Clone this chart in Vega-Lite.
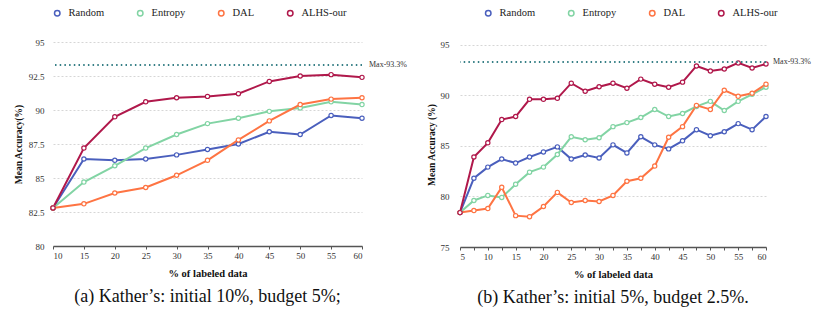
{
  "$schema": "https://vega.github.io/schema/vega-lite/v6.json",
  "padding": {"top": 8, "left": 13, "right": 4, "bottom": 4},
  "spacing": 19,
  "resolve": {"scale": {"x": "independent", "y": "independent", "color": "independent"}, "legend": {"color": "independent"}},
  "config": {
    "font": "Liberation Serif",
    "view": {"stroke": null},
    "axis": {"labelFont": "Liberation Serif", "titleFont": "Liberation Serif", "labelFontSize": 9, "titleFontSize": 10.5, "titleFontWeight": "bold", "labelColor": "#333333", "titleColor": "#111111", "labelOverlap": false},
    "axisY": {"domain": false, "ticks": false, "grid": true, "gridDash": [2, 2], "gridColor": "#cccccc", "gridWidth": 0.8, "titleFontSize": 9.5},
    "axisX": {"grid": false, "domainColor": "#555555", "domainWidth": 1.5, "tickColor": "#555555", "tickSize": 3, "tickWidth": 1, "labelPadding": 2, "titlePadding": 8, "labelAngle": 0},
    "legend": {"labelFont": "Liberation Serif", "labelFontSize": 10.5, "labelColor": "#222222", "symbolType": "circle", "symbolSize": 30, "symbolStrokeWidth": 1.5, "symbolFillColor": "white", "columnPadding": 29, "labelOffset": 6, "direction": "horizontal"},
    "title": {"font": "Liberation Serif", "fontSize": 18, "fontWeight": "normal", "color": "#111111"}
  },
  "datasets": {
    "a": [
      {"p": 10, "method": "Random", "acc": 82.8}, {"p": 15, "method": "Random", "acc": 86.4}, {"p": 20, "method": "Random", "acc": 86.3}, {"p": 25, "method": "Random", "acc": 86.4}, {"p": 30, "method": "Random", "acc": 86.7}, {"p": 35, "method": "Random", "acc": 87.1}, {"p": 40, "method": "Random", "acc": 87.5}, {"p": 45, "method": "Random", "acc": 88.4}, {"p": 50, "method": "Random", "acc": 88.2}, {"p": 55, "method": "Random", "acc": 89.6}, {"p": 60, "method": "Random", "acc": 89.4},
      {"p": 10, "method": "Entropy", "acc": 82.8}, {"p": 15, "method": "Entropy", "acc": 84.7}, {"p": 20, "method": "Entropy", "acc": 85.9}, {"p": 25, "method": "Entropy", "acc": 87.2}, {"p": 30, "method": "Entropy", "acc": 88.2}, {"p": 35, "method": "Entropy", "acc": 89.0}, {"p": 40, "method": "Entropy", "acc": 89.4}, {"p": 45, "method": "Entropy", "acc": 89.9}, {"p": 50, "method": "Entropy", "acc": 90.15}, {"p": 55, "method": "Entropy", "acc": 90.6}, {"p": 60, "method": "Entropy", "acc": 90.4},
      {"p": 10, "method": "DAL", "acc": 82.8}, {"p": 15, "method": "DAL", "acc": 83.1}, {"p": 20, "method": "DAL", "acc": 83.9}, {"p": 25, "method": "DAL", "acc": 84.3}, {"p": 30, "method": "DAL", "acc": 85.2}, {"p": 35, "method": "DAL", "acc": 86.3}, {"p": 40, "method": "DAL", "acc": 87.8}, {"p": 45, "method": "DAL", "acc": 89.2}, {"p": 50, "method": "DAL", "acc": 90.4}, {"p": 55, "method": "DAL", "acc": 90.8}, {"p": 60, "method": "DAL", "acc": 90.9},
      {"p": 10, "method": "ALHS-our", "acc": 82.8}, {"p": 15, "method": "ALHS-our", "acc": 87.2}, {"p": 20, "method": "ALHS-our", "acc": 89.5}, {"p": 25, "method": "ALHS-our", "acc": 90.6}, {"p": 30, "method": "ALHS-our", "acc": 90.9}, {"p": 35, "method": "ALHS-our", "acc": 91.0}, {"p": 40, "method": "ALHS-our", "acc": 91.2}, {"p": 45, "method": "ALHS-our", "acc": 92.1}, {"p": 50, "method": "ALHS-our", "acc": 92.5}, {"p": 55, "method": "ALHS-our", "acc": 92.6}, {"p": 60, "method": "ALHS-our", "acc": 92.4}
    ],
    "b": [
      {"p": 5, "method": "Random", "acc": 78.4}, {"p": 7.5, "method": "Random", "acc": 81.8}, {"p": 10, "method": "Random", "acc": 82.9}, {"p": 12.5, "method": "Random", "acc": 83.7}, {"p": 15, "method": "Random", "acc": 83.3}, {"p": 17.5, "method": "Random", "acc": 83.9}, {"p": 20, "method": "Random", "acc": 84.4}, {"p": 22.5, "method": "Random", "acc": 84.9}, {"p": 25, "method": "Random", "acc": 83.7}, {"p": 27.5, "method": "Random", "acc": 84.1}, {"p": 30, "method": "Random", "acc": 83.8}, {"p": 32.5, "method": "Random", "acc": 85.1}, {"p": 35, "method": "Random", "acc": 84.3}, {"p": 37.5, "method": "Random", "acc": 85.9}, {"p": 40, "method": "Random", "acc": 85.1}, {"p": 42.5, "method": "Random", "acc": 84.7}, {"p": 45, "method": "Random", "acc": 85.5}, {"p": 47.5, "method": "Random", "acc": 86.6}, {"p": 50, "method": "Random", "acc": 86.0}, {"p": 52.5, "method": "Random", "acc": 86.4}, {"p": 55, "method": "Random", "acc": 87.2}, {"p": 57.5, "method": "Random", "acc": 86.6}, {"p": 60, "method": "Random", "acc": 87.9},
      {"p": 5, "method": "Entropy", "acc": 78.4}, {"p": 7.5, "method": "Entropy", "acc": 79.6}, {"p": 10, "method": "Entropy", "acc": 80.1}, {"p": 12.5, "method": "Entropy", "acc": 79.9}, {"p": 15, "method": "Entropy", "acc": 81.2}, {"p": 17.5, "method": "Entropy", "acc": 82.4}, {"p": 20, "method": "Entropy", "acc": 82.9}, {"p": 22.5, "method": "Entropy", "acc": 84.15}, {"p": 25, "method": "Entropy", "acc": 85.9}, {"p": 27.5, "method": "Entropy", "acc": 85.6}, {"p": 30, "method": "Entropy", "acc": 85.8}, {"p": 32.5, "method": "Entropy", "acc": 86.9}, {"p": 35, "method": "Entropy", "acc": 87.3}, {"p": 37.5, "method": "Entropy", "acc": 87.8}, {"p": 40, "method": "Entropy", "acc": 88.6}, {"p": 42.5, "method": "Entropy", "acc": 87.9}, {"p": 45, "method": "Entropy", "acc": 88.2}, {"p": 47.5, "method": "Entropy", "acc": 88.9}, {"p": 50, "method": "Entropy", "acc": 89.4}, {"p": 52.5, "method": "Entropy", "acc": 88.5}, {"p": 55, "method": "Entropy", "acc": 89.4}, {"p": 57.5, "method": "Entropy", "acc": 90.1}, {"p": 60, "method": "Entropy", "acc": 90.8},
      {"p": 5, "method": "DAL", "acc": 78.4}, {"p": 7.5, "method": "DAL", "acc": 78.6}, {"p": 10, "method": "DAL", "acc": 78.8}, {"p": 12.5, "method": "DAL", "acc": 80.9}, {"p": 15, "method": "DAL", "acc": 78.1}, {"p": 17.5, "method": "DAL", "acc": 78.0}, {"p": 20, "method": "DAL", "acc": 79.0}, {"p": 22.5, "method": "DAL", "acc": 80.4}, {"p": 25, "method": "DAL", "acc": 79.4}, {"p": 27.5, "method": "DAL", "acc": 79.6}, {"p": 30, "method": "DAL", "acc": 79.5}, {"p": 32.5, "method": "DAL", "acc": 80.1}, {"p": 35, "method": "DAL", "acc": 81.5}, {"p": 37.5, "method": "DAL", "acc": 81.8}, {"p": 40, "method": "DAL", "acc": 83.0}, {"p": 42.5, "method": "DAL", "acc": 85.85}, {"p": 45, "method": "DAL", "acc": 86.9}, {"p": 47.5, "method": "DAL", "acc": 89.0}, {"p": 50, "method": "DAL", "acc": 88.6}, {"p": 52.5, "method": "DAL", "acc": 90.5}, {"p": 55, "method": "DAL", "acc": 89.9}, {"p": 57.5, "method": "DAL", "acc": 90.2}, {"p": 60, "method": "DAL", "acc": 91.1},
      {"p": 5, "method": "ALHS-our", "acc": 78.4}, {"p": 7.5, "method": "ALHS-our", "acc": 83.9}, {"p": 10, "method": "ALHS-our", "acc": 85.3}, {"p": 12.5, "method": "ALHS-our", "acc": 87.6}, {"p": 15, "method": "ALHS-our", "acc": 87.9}, {"p": 17.5, "method": "ALHS-our", "acc": 89.6}, {"p": 20, "method": "ALHS-our", "acc": 89.6}, {"p": 22.5, "method": "ALHS-our", "acc": 89.7}, {"p": 25, "method": "ALHS-our", "acc": 91.2}, {"p": 27.5, "method": "ALHS-our", "acc": 90.4}, {"p": 30, "method": "ALHS-our", "acc": 90.85}, {"p": 32.5, "method": "ALHS-our", "acc": 91.2}, {"p": 35, "method": "ALHS-our", "acc": 90.7}, {"p": 37.5, "method": "ALHS-our", "acc": 91.6}, {"p": 40, "method": "ALHS-our", "acc": 91.1}, {"p": 42.5, "method": "ALHS-our", "acc": 90.8}, {"p": 45, "method": "ALHS-our", "acc": 91.3}, {"p": 47.5, "method": "ALHS-our", "acc": 92.9}, {"p": 50, "method": "ALHS-our", "acc": 92.4}, {"p": 52.5, "method": "ALHS-our", "acc": 92.6}, {"p": 55, "method": "ALHS-our", "acc": 93.2}, {"p": 57.5, "method": "ALHS-our", "acc": 92.7}, {"p": 60, "method": "ALHS-our", "acc": 93.1}
    ],
    "maxline": [{"p": 60, "acc": 93.3, "label": "Max-93.3%"}]
  },
  "hconcat": [
    {
      "width": 309,
      "height": 204,
      "title": {"text": "(a) Kather’s: initial 10%, budget 5%;", "orient": "bottom", "anchor": "middle", "frame": "group", "offset": 9},
      "layer": [
        {
          "data": {"name": "a"},
          "mark": {"type": "line", "strokeWidth": 2, "point": {"filled": false, "fill": "white", "size": 18, "strokeWidth": 1.2}},
          "encoding": {
            "x": {"field": "p", "type": "quantitative", "title": "% of labeled data", "scale": {"domain": [10, 60], "nice": false}, "axis": {"values": [10, 15, 20, 25, 30, 35, 40, 45, 50, 55, 60], "labelOverlap": false}},
            "y": {"field": "acc", "type": "quantitative", "title": "Mean Accuracy(%)", "scale": {"domain": [80, 95], "nice": false, "zero": false}, "axis": {"values": [80, 82.5, 85, 87.5, 90, 92.5, 95], "format": ".1~f", "labelPadding": 9, "titlePadding": 5, "labelOverlap": false}},
            "color": {"field": "method", "type": "nominal", "scale": {"domain": ["Random", "Entropy", "DAL", "ALHS-our"], "range": ["#4a5fbd", "#82d4a4", "#fe7443", "#b0184b"]}, "legend": {"title": null, "orient": "none", "legendX": -1, "legendY": -34}}
          }
        },
        {
          "data": {"name": "maxline"},
          "mark": {"type": "rule", "color": "#367f86", "strokeWidth": 2, "strokeDash": [1.5, 3.2]},
          "encoding": {
            "y": {"field": "acc", "type": "quantitative", "title": "Mean Accuracy(%)", "scale": {"domain": [80, 95], "nice": false, "zero": false}, "axis": {"values": [80, 82.5, 85, 87.5, 90, 92.5, 95], "format": ".1~f", "labelPadding": 9, "titlePadding": 5, "labelOverlap": false}}
          }
        },
        {
          "data": {"name": "maxline"},
          "mark": {"type": "text", "align": "left", "baseline": "middle", "dx": 7, "fontSize": 8, "color": "#333333", "clip": false},
          "encoding": {
            "x": {"field": "p", "type": "quantitative", "title": "% of labeled data", "scale": {"domain": [10, 60], "nice": false}, "axis": {"values": [10, 15, 20, 25, 30, 35, 40, 45, 50, 55, 60], "labelOverlap": false}},
            "y": {"field": "acc", "type": "quantitative", "title": "Mean Accuracy(%)", "scale": {"domain": [80, 95], "nice": false, "zero": false}, "axis": {"values": [80, 82.5, 85, 87.5, 90, 92.5, 95], "format": ".1~f", "labelPadding": 9, "titlePadding": 5, "labelOverlap": false}},
            "text": {"field": "label"}
          }
        }
      ]
    },
    {
      "width": 306,
      "height": 205,
      "title": {"text": "(b) Kather’s: initial 5%, budget 2.5%.", "orient": "bottom", "anchor": "middle", "frame": "group", "offset": 9},
      "layer": [
        {
          "data": {"name": "b"},
          "mark": {"type": "line", "strokeWidth": 2, "point": {"filled": false, "fill": "white", "size": 18, "strokeWidth": 1.2}},
          "encoding": {
            "x": {"field": "p", "type": "quantitative", "title": "% of labeled data", "scale": {"domain": [5, 60], "nice": false}, "axis": {"values": [5, 7.5, 10, 12.5, 15, 17.5, 20, 22.5, 25, 27.5, 30, 32.5, 35, 37.5, 40, 42.5, 45, 47.5, 50, 52.5, 55, 57.5, 60], "labelExpr": "datum.value % 5 === 0 ? datum.label : ''", "labelOverlap": false}},
            "y": {"field": "acc", "type": "quantitative", "title": "Mean Accuracy (%)", "scale": {"domain": [75, 95.27], "nice": false, "zero": false}, "axis": {"values": [75, 80, 85, 90, 95], "labelPadding": 11, "titlePadding": 4, "labelOverlap": false}},
            "color": {"field": "method", "type": "nominal", "scale": {"domain": ["Random", "Entropy", "DAL", "ALHS-our"], "range": ["#4a5fbd", "#82d4a4", "#fe7443", "#b0184b"]}, "legend": {"title": null, "orient": "none", "legendX": 23, "legendY": -34}}
          }
        },
        {
          "data": {"name": "maxline"},
          "mark": {"type": "rule", "color": "#367f86", "strokeWidth": 2, "strokeDash": [1.5, 3.2]},
          "encoding": {
            "y": {"field": "acc", "type": "quantitative", "title": "Mean Accuracy (%)", "scale": {"domain": [75, 95.27], "nice": false, "zero": false}, "axis": {"values": [75, 80, 85, 90, 95], "labelPadding": 11, "titlePadding": 4, "labelOverlap": false}}
          }
        },
        {
          "data": {"name": "maxline"},
          "mark": {"type": "text", "align": "left", "baseline": "middle", "dx": 7, "fontSize": 8, "color": "#333333", "clip": false},
          "encoding": {
            "x": {"field": "p", "type": "quantitative", "title": "% of labeled data", "scale": {"domain": [5, 60], "nice": false}, "axis": {"values": [5, 7.5, 10, 12.5, 15, 17.5, 20, 22.5, 25, 27.5, 30, 32.5, 35, 37.5, 40, 42.5, 45, 47.5, 50, 52.5, 55, 57.5, 60], "labelExpr": "datum.value % 5 === 0 ? datum.label : ''", "labelOverlap": false}},
            "y": {"field": "acc", "type": "quantitative", "title": "Mean Accuracy (%)", "scale": {"domain": [75, 95.27], "nice": false, "zero": false}, "axis": {"values": [75, 80, 85, 90, 95], "labelPadding": 11, "titlePadding": 4, "labelOverlap": false}},
            "text": {"field": "label"}
          }
        }
      ]
    }
  ]
}
